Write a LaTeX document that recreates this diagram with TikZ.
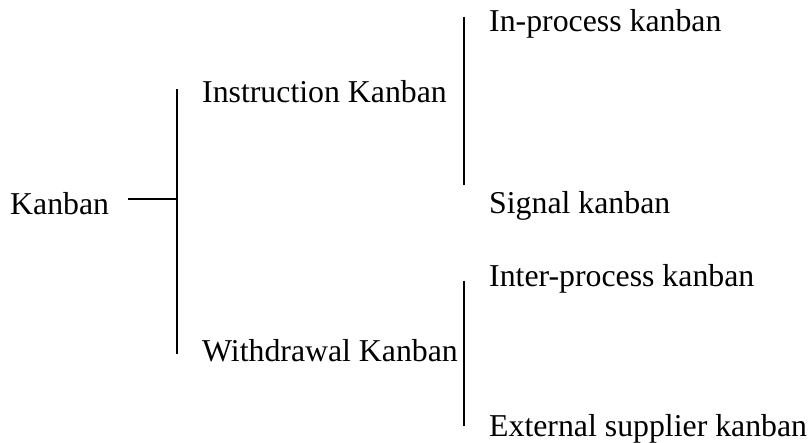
\documentclass[tikz,border=0pt]{standalone}
\usepackage{fontspec}
\setmainfont{Liberation Serif}
\begin{document}
\begin{tikzpicture}[x=1pt,y=-1pt,
  lbl/.style={anchor=base west, inner sep=0pt, font=\fontsize{31.8}{36}\selectfont},
  bracket/.style={line width=1.8pt}]
\useasboundingbox (0,0) rectangle (812,443);
\node[lbl] (kanban) at (10,215) {Kanban};
\node[lbl] (instr) at (202,103) {Instruction Kanban};
\node[lbl] (withd) at (202,362) {Withdrawal Kanban};
\node[lbl] (inproc) at (489,32) {In-process kanban};
\node[lbl] (signal) at (489,214) {Signal kanban};
\node[lbl] (inter) at (489,287) {Inter-process kanban};
\node[lbl] (ext) at (489,437) {External supplier kanban};
\coordinate (h1) at (128,199);
\coordinate (h2) at (177,199);
\coordinate (v1t) at (177,89);
\coordinate (v1b) at (177,354);
\coordinate (v2t) at (464,17);
\coordinate (v2b) at (464,185);
\coordinate (v3t) at (464,281);
\coordinate (v3b) at (464,426);
\draw[bracket] (h1) -- (h2);
\draw[bracket] (v1t) -- (v1b);
\draw[bracket] (v2t) -- (v2b);
\draw[bracket] (v3t) -- (v3b);
\end{tikzpicture}
\end{document}
